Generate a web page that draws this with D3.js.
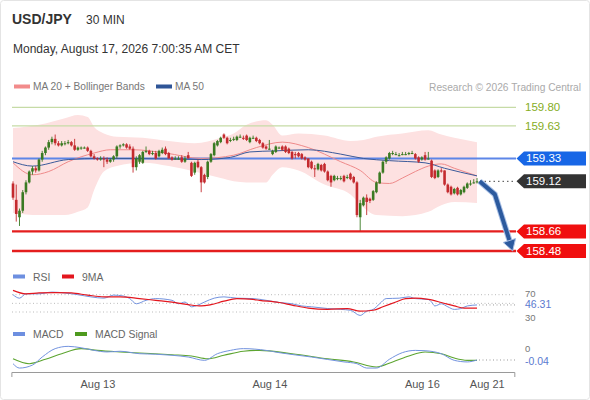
<!DOCTYPE html>
<html lang="en">
<head>
<meta charset="UTF-8">
<title>USD/JPY 30 MIN</title>
<script src="https://d3js.org/d3.v7.min.js"></script>
<style>
  body { margin: 0; background: #fff; }
  svg text { font-family: Arial, "Liberation Sans", sans-serif; }
</style>
</head>
<body>
<svg id="chart" width="590" height="400"></svg>
<script>
// candles, 30 min
const open = [159.10,158.95,158.79,158.85,159.02,159.11,159.21,159.24,159.22,159.32,
  159.38,159.43,159.48,159.51,159.47,159.45,159.47,159.47,159.48,159.45,
  159.41,159.43,159.43,159.43,159.40,159.35,159.33,159.32,159.33,159.32,
  159.30,159.32,159.35,159.44,159.45,159.46,159.44,159.42,159.25,159.30,
  159.29,159.39,159.40,159.37,159.38,159.35,159.38,159.42,159.38,159.34,
  159.33,159.33,159.34,159.30,159.36,159.29,159.20,159.30,159.25,159.18,
  159.16,159.30,159.36,159.45,159.48,159.55,159.52,159.50,159.51,159.50,
  159.53,159.52,159.54,159.48,159.52,159.52,159.50,159.47,159.44,159.42,
  159.37,159.39,159.43,159.44,159.44,159.42,159.39,159.37,159.38,159.37,
  159.34,159.33,159.30,159.24,159.23,159.27,159.28,159.21,159.17,159.13,
  159.15,159.15,159.17,159.16,159.19,159.16,159.11,158.79,158.90,158.97,
  158.96,158.95,159.02,159.10,159.20,159.30,159.33,159.38,159.37,159.36,
  159.37,159.37,159.37,159.38,159.37,159.34,159.32,159.36,159.33,159.31,
  159.22,159.16,159.22,159.22,159.09,159.07,159.01,159.06,159.00,159.02,
  159.06,159.10,159.11,159.11];
const high = [159.12,159.09,158.87,159.04,159.13,159.22,159.26,159.26,159.33,159.40,
  159.44,159.50,159.53,159.55,159.49,159.49,159.49,159.50,159.49,159.51,
  159.44,159.44,159.44,159.44,159.41,159.37,159.34,159.35,159.35,159.34,
  159.33,159.36,159.45,159.46,159.47,159.47,159.46,159.44,159.35,159.37,
  159.40,159.44,159.41,159.40,159.40,159.41,159.43,159.44,159.39,159.35,
  159.35,159.35,159.36,159.35,159.39,159.30,159.30,159.32,159.26,159.19,
  159.31,159.38,159.48,159.50,159.53,159.56,159.53,159.52,159.53,159.54,
  159.55,159.54,159.55,159.53,159.54,159.53,159.51,159.48,159.45,159.50,
  159.41,159.45,159.44,159.45,159.45,159.43,159.40,159.39,159.39,159.38,
  159.35,159.33,159.31,159.27,159.29,159.28,159.29,159.22,159.18,159.18,
  159.17,159.17,159.18,159.18,159.20,159.17,159.12,158.95,158.98,159.00,
  158.97,159.04,159.12,159.21,159.31,159.35,159.39,159.40,159.39,159.38,
  159.39,159.39,159.39,159.40,159.38,159.35,159.35,159.39,159.39,159.32,
  159.23,159.23,159.24,159.22,159.10,159.08,159.06,159.07,159.05,159.08,
  159.11,159.13,159.14,159.15];
const low = [158.95,158.75,158.71,158.83,159.00,159.10,159.18,159.20,159.21,159.30,
  159.36,159.41,159.46,159.45,159.44,159.44,159.45,159.46,159.44,159.40,
  159.40,159.41,159.42,159.39,159.34,159.32,159.31,159.31,159.25,159.28,
  159.29,159.30,159.33,159.42,159.44,159.42,159.41,159.20,159.22,159.28,
  159.28,159.38,159.36,159.36,159.32,159.34,159.37,159.36,159.33,159.31,
  159.32,159.32,159.29,159.29,159.33,159.16,159.18,159.24,159.02,159.10,
  159.14,159.29,159.35,159.44,159.47,159.51,159.46,159.48,159.49,159.49,
  159.52,159.50,159.49,159.47,159.51,159.48,159.46,159.42,159.41,159.41,
  159.36,159.38,159.42,159.40,159.38,159.37,159.32,159.33,159.34,159.32,
  159.31,159.24,159.23,159.16,159.22,159.21,159.20,159.12,159.07,159.12,
  159.13,159.13,159.11,159.14,159.13,159.10,158.79,158.66,158.89,158.81,
  158.92,158.94,159.01,159.10,159.19,159.28,159.32,159.36,159.36,159.35,
  159.36,159.36,159.36,159.37,159.32,159.29,159.31,159.31,159.32,159.15,
  159.14,159.15,159.20,159.08,159.01,158.99,159.00,158.99,158.99,159.01,
  159.05,159.08,159.10,159.10];
const close = [158.97,158.82,158.85,159.02,159.11,159.21,159.24,159.22,159.32,159.38,
  159.43,159.48,159.51,159.47,159.45,159.47,159.47,159.48,159.45,159.41,
  159.43,159.43,159.43,159.40,159.35,159.33,159.32,159.33,159.32,159.30,
  159.32,159.35,159.44,159.45,159.46,159.43,159.42,159.25,159.33,159.36,
  159.39,159.40,159.37,159.38,159.33,159.40,159.41,159.37,159.33,159.32,
  159.33,159.33,159.30,159.33,159.33,159.17,159.29,159.25,159.11,159.11,
  159.30,159.37,159.47,159.49,159.52,159.52,159.47,159.50,159.51,159.53,
  159.53,159.51,159.50,159.52,159.52,159.49,159.47,159.43,159.42,159.42,
  159.40,159.44,159.43,159.41,159.39,159.38,159.33,159.36,159.35,159.33,
  159.32,159.25,159.24,159.23,159.28,159.22,159.21,159.13,159.11,159.17,
  159.15,159.15,159.12,159.16,159.14,159.11,158.81,158.92,158.97,158.93,
  158.94,159.03,159.11,159.20,159.30,159.34,159.38,159.38,159.37,159.36,
  159.37,159.37,159.38,159.38,159.33,159.30,159.34,159.32,159.33,159.16,
  159.15,159.22,159.21,159.09,159.02,159.00,159.05,159.00,159.04,159.07,
  159.10,159.10,159.11,159.12];

// Bollinger bands (20) and moving averages, read at candle indices
const bandIdx = [0,8,16,20,23,25,28,32,40,48,56,64,68,72,78,80,83,88,96,104,108,112,120,128,132,136,143];
const bandUpper = [159.61,159.64,159.70,159.73,159.71,159.62,159.56,159.53,159.52,159.49,159.47,159.52,159.56,159.64,159.68,159.64,159.54,159.56,159.54,159.49,159.50,159.53,159.56,159.59,159.55,159.52,159.48];
const bandLower = [158.83,158.81,158.81,158.84,158.88,159.04,159.21,159.26,159.29,159.26,159.21,159.15,159.12,159.11,159.11,159.18,159.25,159.22,159.09,159.00,158.88,158.81,158.80,158.84,158.90,158.93,158.92];
const ma20Idx = [0,6,11,17,25,30,37,47,58,68,75,83,91,101,107,112,116,120,124,128,132,136,143];
const ma20 = [159.29,159.18,159.21,159.30,159.38,159.41,159.41,159.38,159.33,159.36,159.43,159.48,159.43,159.30,159.22,159.11,159.10,159.15,159.21,159.26,159.28,159.24,159.17];
const ma50Idx = [0,6,17,27,37,58,67,73,81,91,101,108,116,127,133,143];
const ma50 = [159.30,159.26,159.32,159.33,159.33,159.32,159.34,159.39,159.40,159.41,159.37,159.33,159.31,159.29,159.24,159.17];

// RSI and its 9 MA
const rsiIdx = [0,2,4,8,12,16,20,24,28,31,34,36,38,41,44,49,51,53,55,57,59,62,65,69,74,78,82,86,89,92,97,101,104,107,109,111,113,115,119,122,124,128,129,130,132,134,136,138,140,143];
const rsi = [70,62,72,72,76,74,70,65,62,69,67,61,49,57,61,57,49,53,42,46,53,62,65,62,61,57,52,49,44,42,38,36,34,22,32,36,49,61,62,65,61,59,53,44,49,42,36,38,44,46.31];
const rsiMaIdx = [0,4,8,13,18,23,28,33,39,44,49,54,58,61,65,69,74,76,82,86,91,97,103,107,111,114,118,121,124,128,132,136,139,143];
const rsiMa = [80,72,74,75,74,69,65,65,61,57,53,47,44,47,55,61,59,57,52,46,39,36,38,32,34,42,53,61,62,59,52,44,39,39];

// MACD and signal
const macdIdx = [0,2,6,9,13,17,21,25,29,33,39,44,49,54,59,63,67,71,78,82,92,102,106,109,112,116,120,124,127,132,136,140,143];
const macd = [-0.061,-0.086,-0.069,-0.023,0.025,0.038,0.030,0.015,0.006,0.010,-0.004,-0.007,-0.013,-0.023,-0.042,-0.004,0.015,0.025,0.015,0.002,-0.023,-0.051,-0.061,-0.086,-0.086,-0.036,0.002,0.015,0.013,-0.004,-0.042,-0.051,-0.040];
const signalIdx = [0,5,10,15,21,26,33,39,49,55,60,65,71,76,86,97,105,112,117,122,127,132,136,140,143];
const signal = [-0.033,-0.061,-0.036,-0.004,0.025,0.015,0.006,0.000,-0.010,-0.017,-0.033,-0.013,0.010,0.015,-0.004,-0.033,-0.051,-0.080,-0.051,-0.017,0.006,-0.004,-0.029,-0.042,-0.042];

// levels
const resistLevels = [159.80, 159.63];
const pivotLevel = 159.33;
const supportLevels = [158.66, 158.48];
const lastPrice = 159.12;
const forecastIdx = [143.8, 148.5, 153.3];
const forecastPrice = [159.12, 159.00, 158.55];
const forecastTarget = 158.48;

// x axis
const tickIdx = [26, 79, 126, 146];
const tickLabels = ["Aug 13", "Aug 14", "Aug 16", "Aug 21"];

const svg = d3.select("#chart");
const x = d3.scaleLinear().domain([0, close.length - 1]).range([13, 477]);
const y = d3.scaleLinear().domain([158.48, 159.80]).range([251, 107.3]);
const yRsi = d3.scaleLinear().domain([30, 70]).range([312, 294.7]);
const yMacd = d3.scaleLinear().domain([-0.1, 0.05]).range([370.5, 344.25]);
const left = x(-0.5), right = x(154.5);

svg.append("rect").attr("x", 0.5).attr("y", 0.5).attr("width", 589).attr("height", 399)
  .attr("rx", 3).attr("fill", "#fff").attr("stroke", "#e4e4e4");

// header
svg.append("text").attr("x", 12).attr("y", 24).attr("font-size", 14).attr("font-weight", "bold")
  .attr("fill", "#333").text("USD/JPY");
svg.append("text").attr("x", 86).attr("y", 24).attr("font-size", 12).attr("fill", "#333").text("30 MIN");
svg.append("text").attr("x", 13).attr("y", 53).attr("font-size", 12).attr("fill", "#333")
  .text("Monday, August 17, 2026 7:00:35 AM CET");

function legendItem(xp, yp, w, color, label) {
  svg.append("rect").attr("x", xp).attr("y", yp - 2).attr("width", w).attr("height", 4).attr("fill", color);
  svg.append("text").attr("x", xp + w + 3).attr("y", yp + 3.8).attr("font-size", 10.2).attr("fill", "#777").text(label);
}
legendItem(14, 86.5, 16, "#f28b8b", "MA 20 + Bollinger Bands");
legendItem(156, 86.5, 16, "#2f5597", "MA 50");
svg.append("text").attr("x", 581).attr("y", 90.5).attr("text-anchor", "end").attr("font-size", 10.2)
  .attr("fill", "#aaa").text("Research \u00a9 2026 Trading Central");

// bollinger band
const band = bandIdx.map((d, i) => ({ i: d, up: bandUpper[i], lo: bandLower[i] }));
svg.append("path").datum(band)
  .attr("d", d3.area().x(d => x(d.i)).y0(d => y(d.lo)).y1(d => y(d.up)).curve(d3.curveMonotoneX))
  .attr("fill", "#fde1e1");

// horizontal levels
svg.selectAll(".res").data(resistLevels).enter().append("line")
  .attr("x1", 12).attr("x2", 516).attr("y1", d => y(d)).attr("y2", d => y(d))
  .attr("stroke", "#c6dba6").attr("stroke-width", 1.2);
svg.selectAll(".resl").data(resistLevels).enter().append("text")
  .attr("x", 525).attr("y", d => y(d) + 4).attr("font-size", 11.5).attr("fill", "#86ad25")
  .text(d => d.toFixed(2));
svg.append("line").attr("x1", 12).attr("x2", 516).attr("y1", y(pivotLevel)).attr("y2", y(pivotLevel))
  .attr("stroke", "#5d86e8").attr("stroke-width", 2);

// moving averages
const lineGen = (ys) => d3.line().x(d => x(d[0])).y(d => ys(d[1])).curve(d3.curveMonotoneX);
svg.append("path").datum(ma20Idx.map((d, i) => [d, ma20[i]])).attr("d", lineGen(y))
  .attr("fill", "none").attr("stroke", "#ef8a8a").attr("stroke-width", 1);
svg.append("path").datum(ma50Idx.map((d, i) => [d, ma50[i]])).attr("d", lineGen(y))
  .attr("fill", "none").attr("stroke", "#3b5a9a").attr("stroke-width", 1);

// candles
const candles = close.map((c, i) => ({ i, o: open[i], h: high[i], l: low[i], c }));
const col = d => d.c >= d.o ? "#3a7a22" : "#c42a2e";
const g = svg.append("g");
g.selectAll(".wick").data(candles).enter().append("line")
  .attr("x1", d => x(d.i)).attr("x2", d => x(d.i))
  .attr("y1", d => y(d.h)).attr("y2", d => y(d.l))
  .attr("stroke", col).attr("stroke-width", 0.9);
g.selectAll(".body").data(candles).enter().append("rect")
  .attr("x", d => x(d.i) - 1.3).attr("width", 2.6)
  .attr("y", d => y(Math.max(d.o, d.c)))
  .attr("height", d => Math.max(1, Math.abs(y(d.o) - y(d.c))))
  .attr("fill", col);

// support lines
svg.selectAll(".sup").data(supportLevels).enter().append("line")
  .attr("x1", 12).attr("x2", 516).attr("y1", d => y(d)).attr("y2", d => y(d))
  .attr("stroke", "#e41e1e").attr("stroke-width", 2.4);

// last price dotted
svg.append("line").attr("x1", x(close.length - 1) + 3).attr("x2", 516)
  .attr("y1", y(lastPrice)).attr("y2", y(lastPrice))
  .attr("stroke", "#444").attr("stroke-dasharray", "1.5,3");

// forecast arrow
const fpts = forecastIdx.map((d, i) => [x(d), y(forecastPrice[i])]);
const tip = [x(154), y(forecastTarget)];
svg.append("path").attr("d", d3.line()(fpts)).attr("fill", "none")
  .attr("stroke", "#a9c0e6").attr("stroke-width", 6).attr("stroke-linejoin", "round");
svg.append("path").attr("d", d3.line()(fpts)).attr("fill", "none")
  .attr("stroke", "#2c5a9e").attr("stroke-width", 4).attr("stroke-linejoin", "round");
{
  const dx = tip[0] - fpts[1][0], dy = tip[1] - fpts[1][1];
  const len = Math.hypot(dx, dy), ux = dx / len, uy = dy / len;
  const bx = tip[0] - ux * 11, by = tip[1] - uy * 11;
  const pts = [tip, [bx - uy * 6.5, by + ux * 6.5], [bx + uy * 6.5, by - ux * 6.5]];
  svg.append("path").attr("d", "M" + pts.join("L") + "Z")
    .attr("fill", "#2c5a9e").attr("stroke", "#a9c0e6").attr("stroke-width", 1);
}

// price tags
function tag(price, color) {
  const yc = y(price);
  svg.append("path")
    .attr("d", `M516.5,${yc}L524,${yc - 7}L586,${yc - 7}L586,${yc + 7}L524,${yc + 7}Z`)
    .attr("fill", color);
  svg.append("text").attr("x", 526).attr("y", yc + 4).attr("font-size", 11.5).attr("fill", "#fff")
    .text(price.toFixed(2));
}
tag(pivotLevel, "#1766e6");
tag(lastPrice, "#333");
supportLevels.forEach(p => tag(p, "#f00f0f"));

// RSI panel
function legendSmall(xp, yp, color, label) {
  svg.append("rect").attr("x", xp).attr("y", yp - 2).attr("width", 12).attr("height", 4).attr("fill", color);
  svg.append("text").attr("x", xp + 20).attr("y", yp + 4).attr("font-size", 10.4).attr("fill", "#666").text(label);
}
legendSmall(13, 276.5, "#6d8fe0", "RSI");
legendSmall(62, 276.5, "#e3161e", "9MA");
[70, 50, 30].forEach(v => {
  svg.append("line").attr("x1", 12).attr("x2", 515).attr("y1", yRsi(v)).attr("y2", yRsi(v))
    .attr("stroke", "#bbb").attr("stroke-dasharray", "1,2.5");
});
svg.append("path").datum(rsiIdx.map((d, i) => [d, rsi[i]])).attr("d", lineGen(yRsi))
  .attr("fill", "none").attr("stroke", "#7393df").attr("stroke-width", 1);
svg.append("path").datum(rsiMaIdx.map((d, i) => [d, rsiMa[i]])).attr("d", lineGen(yRsi))
  .attr("fill", "none").attr("stroke", "#e3161e").attr("stroke-width", 1.2);
svg.append("line").attr("x1", x(rsiIdx[rsiIdx.length - 1]) + 2).attr("x2", 515)
  .attr("y1", yRsi(rsi[rsi.length - 1])).attr("y2", yRsi(rsi[rsi.length - 1]))
  .attr("stroke", "#999").attr("stroke-dasharray", "1,2.5");
// the three labels are nudged apart so they stay readable
svg.append("text").attr("x", 525).attr("y", yRsi(70) + 2.5).attr("font-size", 9.5).attr("fill", "#777").text("70");
svg.append("text").attr("x", 525).attr("y", yRsi(46.31) + 3.5).attr("font-size", 10.5).attr("fill", "#5b7bd0")
  .text(rsi[rsi.length - 1].toFixed(2));
svg.append("text").attr("x", 525).attr("y", yRsi(30) + 9).attr("font-size", 9.5).attr("fill", "#777").text("30");

// MACD panel
legendSmall(13, 334, "#6d8fe0", "MACD");
legendSmall(75, 334, "#4e9a1e", "MACD Signal");
svg.append("path").datum(signalIdx.map((d, i) => [d, signal[i]])).attr("d", lineGen(yMacd))
  .attr("fill", "none").attr("stroke", "#5da531").attr("stroke-width", 1.1);
svg.append("path").datum(macdIdx.map((d, i) => [d, macd[i]])).attr("d", lineGen(yMacd))
  .attr("fill", "none").attr("stroke", "#7393df").attr("stroke-width", 1);
svg.append("line").attr("x1", x(macdIdx[macdIdx.length - 1]) + 2).attr("x2", 515)
  .attr("y1", yMacd(macd[macd.length - 1])).attr("y2", yMacd(macd[macd.length - 1]))
  .attr("stroke", "#999").attr("stroke-dasharray", "1,2.5");
svg.append("text").attr("x", 525).attr("y", yMacd(0) - 1).attr("font-size", 9.5).attr("fill", "#777").text("0");
svg.append("text").attr("x", 525).attr("y", yMacd(-0.04) + 4.5).attr("font-size", 10.5).attr("fill", "#5b7bd0")
  .text(macd[macd.length - 1].toFixed(2));

// time axis
const xAxisScale = x.copy().domain([-0.5, 154.5]).range([left, right]);
const ax = svg.append("g").attr("transform", "translate(0,372)")
  .call(d3.axisBottom(xAxisScale).tickValues(tickIdx).tickFormat((d, i) => tickLabels[i])
    .tickSizeInner(0).tickSizeOuter(5).tickPadding(8));
ax.select(".domain").attr("stroke", "#9a9a9a");
ax.selectAll("text").attr("font-size", 11).attr("fill", "#555").attr("font-family", "Arial, sans-serif");
</script>
</body>
</html>
